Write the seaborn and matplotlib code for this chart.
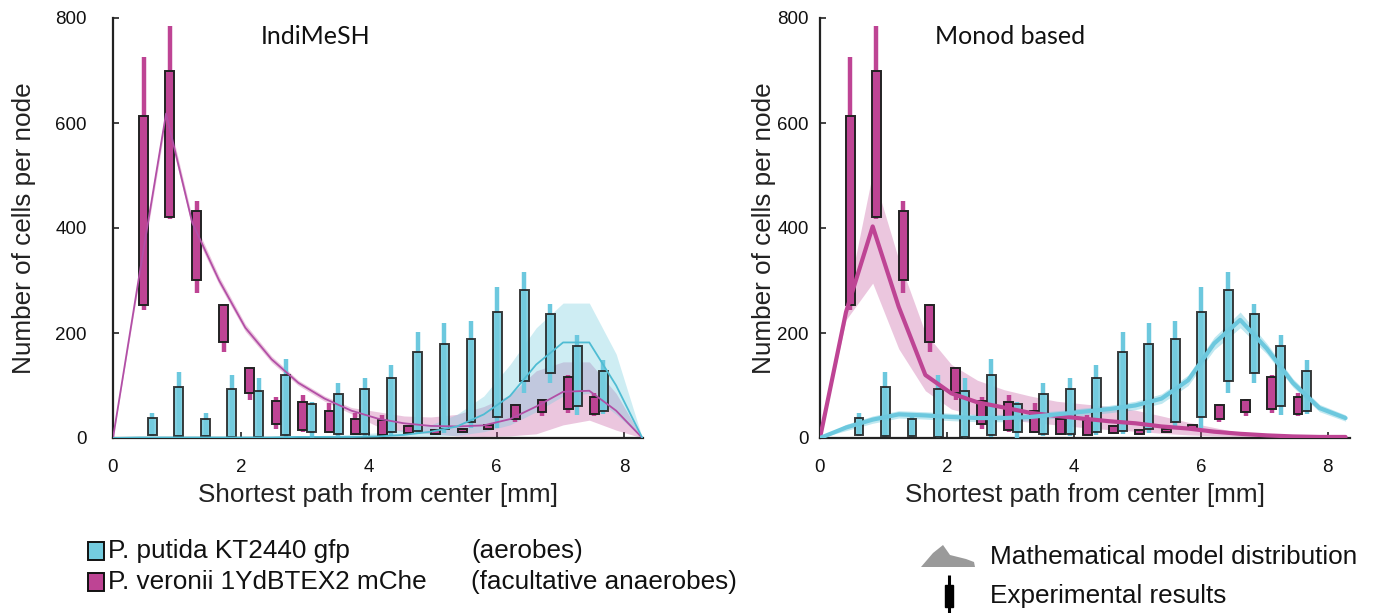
import numpy as np
import pandas as pd
import matplotlib
matplotlib.use("Agg")
import matplotlib.pyplot as plt
import seaborn as sns
from matplotlib.patches import Rectangle, Polygon

sns.set_theme(style="white")
plt.rcParams['font.family'] = ['Liberation Sans', 'DejaVu Sans']

# ---------------- experimental results (same in both panels) ----------------
mag_x      = [0.48, 0.89, 1.31, 1.73, 2.14, 2.55, 2.97, 3.38, 3.79, 4.21, 4.62, 5.04, 5.46, 5.87, 6.29, 6.71, 7.12, 7.53]
mag_box_lo = [253, 421, 301, 182, 85, 26, 15, 11, 8, 6, 9, 7, 12, 17, 36, 50, 56, 45]
mag_box_hi = [614, 699, 432, 253, 134, 70, 68, 51, 36, 34, 22, 15, 18, 24, 62, 72, 116, 78]
mag_wh_lo  = [244, 417, 277, 164, 72, 18, 12, 9, 6, 5, 8, 6, 11, 16, 30, 41, 47, 42]
mag_wh_hi  = [725, 785, 452, 256, 136, 79, 82, 66, 47, 44, 24, 16, 19, 25, 64, 74, 120, 85]

cyan_x      = [0.615, 1.03, 1.45, 1.86, 2.28, 2.70, 3.11, 3.52, 3.94, 4.35, 4.77, 5.18, 5.60, 6.01, 6.43, 6.84, 7.26, 7.67]
cyan_box_lo = [6, 4, 3, 1, 1, 6, 11, 7, 7, 12, 14, 18, 31, 40, 108, 123, 61, 51]
cyan_box_hi = [39, 97, 37, 93, 90, 120, 64, 83, 93, 115, 163, 180, 188, 240, 281, 236, 176, 128]
cyan_wh_lo  = [4, 2, 1, 0, 0, 2, 0, 3, 3, 5, 8, 10, 20, 20, 86, 105, 44, 45]
cyan_wh_hi  = [48, 126, 48, 120, 115, 150, 69, 104, 114, 139, 201, 220, 223, 288, 316, 255, 196, 149]

# ---------------- mathematical model distributions ----------------
model_x = [0.0, 0.41, 0.83, 1.24, 1.66, 2.07, 2.48, 2.90, 3.31, 3.73, 4.14,
           4.55, 4.97, 5.38, 5.80, 6.21, 6.62, 7.04, 7.45, 7.87, 8.28]

# IndiMeSH
ind_mag_mid = [0, 309, 618, 410, 300, 210, 150, 105, 75, 52, 37, 28, 23, 22, 24, 36, 60, 88, 90, 52, 0]
ind_mag_lo  = [0, 300, 605, 400, 292, 203, 144, 100, 70, 46, 22, 12, 8, 4, 3, 4, 8, 25, 34, 15, 0]
ind_mag_hi  = [0, 318, 630, 420, 308, 217, 156, 110, 80, 58, 50, 42, 40, 45, 60, 82, 128, 145, 145, 85, 0]
ind_cy_mid  = [0, 1, 1, 1, 1, 1, 1, 2, 2, 2, 3, 6, 12, 22, 45, 80, 140, 182, 182, 100, 0]
ind_cy_lo   = [0, 0, 0, 0, 0, 0, 0, 0, 0, 0, 1, 2, 3, 5, 12, 25, 50, 80, 85, 45, 0]
ind_cy_hi   = [0, 2, 2, 2, 2, 2, 3, 4, 5, 7, 10, 16, 25, 45, 80, 140, 210, 257, 257, 160, 0]

# Monod based
mon_mag_mid = [0, 240, 403, 250, 120, 85, 68, 58, 48, 42, 37, 32, 28, 22, 18, 12, 8, 5, 3, 2, 2]
mon_mag_lo  = [0, 225, 295, 170, 90, 55, 42, 35, 30, 25, 20, 16, 13, 9, 6, 4, 3, 1, 1, 1, 1]
mon_mag_hi  = [0, 255, 505, 340, 200, 140, 110, 92, 80, 70, 65, 60, 53, 42, 30, 20, 10, 6, 4, 3, 3]
mon_cy_mid  = [0, 20, 35, 45, 43, 40, 38, 38, 40, 45, 50, 55, 62, 75, 110, 180, 225, 170, 105, 57, 38]
mon_cy_lo   = [0, 14, 28, 38, 36, 33, 31, 31, 33, 38, 43, 48, 54, 66, 100, 168, 210, 160, 97, 50, 32]
mon_cy_hi   = [0, 26, 42, 52, 50, 47, 45, 45, 47, 52, 57, 62, 70, 84, 120, 192, 240, 180, 113, 64, 44]

x_ticks = [0, 2, 4, 6, 8]
y_ticks = [0, 200, 400, 600, 800]

CYAN = '#74CCDF'
CYAN_W = '#6CC8DE'
MAG = '#BE4494'
MAG_LINE = '#B24FA6'

W, H = 1376, 613
fig = plt.figure(figsize=(W / 100, H / 100), dpi=100)

# overlay for the legends (pixel coordinates)
lax = fig.add_axes([0, 0, 1, 1])
lax.set_xlim(0, W)
lax.set_ylim(H, 0)
lax.axis('off')

axL = fig.add_axes([113 / W, 175 / H, 530 / W, 420 / H])
axR = fig.add_axes([820 / W, 175 / H, 530 / W, 420 / H])


def draw_exp(ax):
    ax.vlines(mag_x, mag_wh_lo, mag_wh_hi, color=MAG, lw=3.2, zorder=3)
    ax.bar(mag_x, np.array(mag_box_hi) - np.array(mag_box_lo), bottom=mag_box_lo,
           width=0.14, color=MAG, edgecolor='#222222', linewidth=1.4, zorder=4)
    ax.vlines(cyan_x, cyan_wh_lo, cyan_wh_hi, color=CYAN_W, lw=3.2, zorder=5)
    ax.bar(cyan_x, np.array(cyan_box_hi) - np.array(cyan_box_lo), bottom=cyan_box_lo,
           width=0.14, color=CYAN, edgecolor='#222222', linewidth=1.4, alpha=0.88, zorder=6)


def style(ax, xmax, ypad):
    ax.set_xlim(0, xmax)
    ax.set_ylim(0, 800)
    ax.set_xticks(x_ticks)
    ax.set_yticks(y_ticks)
    for s in ['top', 'right']:
        ax.spines[s].set_visible(False)
    for s in ['left', 'bottom']:
        ax.spines[s].set_color('#222222')
        ax.spines[s].set_linewidth(1.6)
    ax.tick_params(axis='both', direction='in', length=4, width=1.2, color='#222222',
                   labelsize=13.5, labelcolor='#111111', left=True, bottom=True)
    ax.tick_params(axis='y', pad=ypad)
    ax.tick_params(axis='x', pad=15)
    ax.set_xlabel('Shortest path from center [mm]', fontsize=18.8, color='#222222')
    ax.set_ylabel('Number of cells per node', fontsize=18.8, color='#222222')
    ax.xaxis.set_label_coords(0.5, -0.108)
    return ax


# ---- left: IndiMeSH ----
axL.fill_between(model_x, ind_mag_lo, ind_mag_hi, color=MAG, alpha=0.3, lw=0, zorder=1)
axL.fill_between(model_x, ind_cy_lo, ind_cy_hi, color=CYAN, alpha=0.35, lw=0, zorder=1)
draw_exp(axL)
sns.lineplot(x=model_x, y=ind_mag_mid, ax=axL, color=MAG_LINE, lw=1.3, zorder=7)
sns.lineplot(x=model_x, y=ind_cy_mid, ax=axL, color='#4FBCD3', lw=1.3, zorder=7)
style(axL, 8.29, 19)
axL.yaxis.set_label_coords(-0.145, 0.5)
fig.text(316 / W, 1 - 37 / H, 'IndiMeSH', family=['Lato', 'DejaVu Sans'], fontsize=18,
         ha='center', va='center', color='#111111')

# ---- right: Monod based ----
axR.fill_between(model_x, mon_mag_lo, mon_mag_hi, color=MAG, alpha=0.3, lw=0, zorder=1)
axR.fill_between(model_x, mon_cy_lo, mon_cy_hi, color=CYAN, alpha=0.45, lw=0, zorder=1)
draw_exp(axR)
sns.lineplot(x=model_x, y=mon_mag_mid, ax=axR, color=MAG, lw=3.0, zorder=7)
sns.lineplot(x=model_x, y=mon_cy_mid, ax=axR, color=CYAN_W, lw=3.0, zorder=7)
style(axR, 8.35, 8)
axR.yaxis.set_label_coords(-0.083, 0.5)
fig.text(1010 / W, 1 - 37 / H, 'Monod based', family=['Lato', 'DejaVu Sans'], fontsize=18,
         ha='center', va='center', color='#111111')

# ---- species legend ----
LEG = 18.8
lax.add_patch(Rectangle((88, 542), 16, 18, facecolor=CYAN, edgecolor='#111111', lw=1.4))
lax.add_patch(Rectangle((88, 573), 16, 18, facecolor=MAG, edgecolor='#111111', lw=1.4))
lax.text(108, 551, 'P. putida KT2440 gfp', fontsize=LEG, va='center', ha='left', color='#111111')
lax.text(108, 582, 'P. veronii 1YdBTEX2 mChe', fontsize=LEG, va='center', ha='left', color='#111111')
lax.text(471, 551, '(aerobes)', fontsize=LEG, va='center', ha='left', color='#111111')
lax.text(471, 582, '(facultative anaerobes)', fontsize=LEG, va='center', ha='left', color='#111111')

# ---- model / experiment legend ----
lax.add_patch(Polygon([(921, 567), (933, 553), (943, 545), (950, 555), (966, 559),
                       (974, 562), (975, 567)], closed=True, facecolor='#9a9a9a', edgecolor='none'))
lax.vlines(949, 575, 613, color='black', lw=2.2)
lax.add_patch(Rectangle((945, 585), 8, 22, facecolor='black', edgecolor='black'))
lax.text(990, 557, 'Mathematical model distribution', fontsize=LEG, va='center', ha='left', color='#111111')
lax.text(990, 596, 'Experimental results', fontsize=LEG, va='center', ha='left', color='#111111')

fig.savefig('out.png', dpi=100)
